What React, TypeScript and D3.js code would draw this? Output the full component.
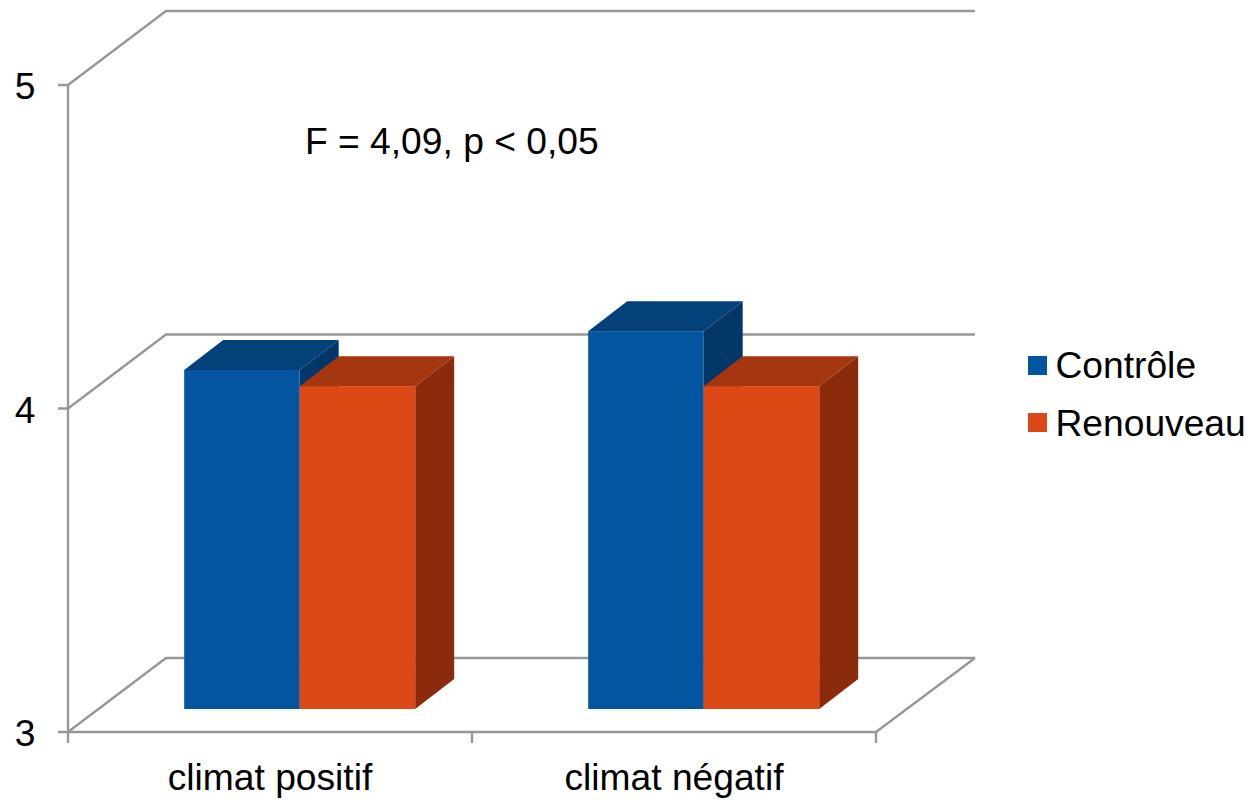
import React from "react";
import * as d3 from "d3";

const categories = ["climat positif", "climat négatif"];
const seriesNames = ["Contrôle", "Renouveau"];
const controle = [4.048, 4.168];
const renouveau = [3.998, 3.998];
const yTicks = [3, 4, 5];
const annotation = "F = 4,09, p < 0,05";

const W = 1250, H = 800;
const FONT = "'Liberation Sans', Arial, sans-serif";
const AXIS = "#979797";
const front = ["#04559f", "#dc4816"];
const topC = ["#04407a", "#a5360f"];
const sideC = ["#03376a", "#8c2b0c"];

const x0 = 68, x1 = 876;
const y = d3.scaleLinear().domain([3, 5]).range([732, 85]);
const x = d3.scaleBand<string>().domain(categories).range([x0, x1]);
const wallDx = 98, wallDy = -74;
const barDx = 39, barDy = -30;
const planeDx = 30, planeDy = -23;
const barW = 115.5;

const pts = (p: number[][]) => p.map((a) => a.join(",")).join(" ");

function Bar({ left, value, s }: { left: number; value: number; s: number }) {
  const base = y(3) + planeDy;
  const t = y(value) + planeDy;
  const r = left + barW;
  return (
    <g>
      <polygon points={pts([[left, t], [r, t], [r + barDx, t + barDy], [left + barDx, t + barDy]])} fill={topC[s]} />
      <polygon points={pts([[r, t], [r + barDx, t + barDy], [r + barDx, base + barDy], [r, base]])} fill={sideC[s]} />
      <rect x={left} y={t} width={barW} height={base - t} fill={front[s]} />
    </g>
  );
}

export default function App() {
  const tickXs = [x0, ...categories.map((c) => (x(c) as number) + x.bandwidth())];
  return (
    <svg width={W} height={H} style={{ position: "absolute", left: 0, top: 0, background: "#fff" }} fontFamily={FONT} fill="#000">
      <g fill="none" stroke={AXIS} strokeWidth={2.4}>
        {yTicks.map((v) => (
          <polyline key={v} points={pts([[x0 - 10, y(v)], [x0, y(v)], [x0 + wallDx, y(v) + wallDy], [x1 + wallDx + 1, y(v) + wallDy]])} />
        ))}
        <line x1={x0} x2={x0} y1={y(5)} y2={y(3) + 11} />
        <line x1={x0} x2={x1} y1={y(3)} y2={y(3)} />
        <line x1={x1} x2={x1 + wallDx + 1} y1={y(3)} y2={y(3) + wallDy} />
        {tickXs.slice(1).map((t, i) => (
          <line key={i} x1={t} x2={t} y1={y(3)} y2={y(3) + 11} />
        ))}
      </g>
      {categories.map((c, i) => {
        const cx = (x(c) as number) + x.bandwidth() / 2 + planeDx - 0.3;
        return (
          <g key={c}>
            <Bar left={cx - barW} value={controle[i]} s={0} />
            <Bar left={cx} value={renouveau[i]} s={1} />
          </g>
        );
      })}
      {yTicks.map((v) => (
        <text key={v} x={25} y={y(v) + 14} textAnchor="middle" fontSize={37.2}>{v}</text>
      ))}
      {categories.map((c, i) => (
        <text key={c} x={(x(c) as number) + x.bandwidth() / 2} y={790} textAnchor="middle" fontSize={37.2}>{c}</text>
      ))}
      <text x={305} y={154} fontSize={37.2}>{annotation}</text>
      {seriesNames.map((n, i) => (
        <g key={n}>
          <rect x={1028} y={356 + i * 57} width={19} height={19} fill={front[i]} />
          <text x={1055.5} y={378 + i * 58} fontSize={37.2}>{n}</text>
        </g>
      ))}
    </svg>
  );
}
